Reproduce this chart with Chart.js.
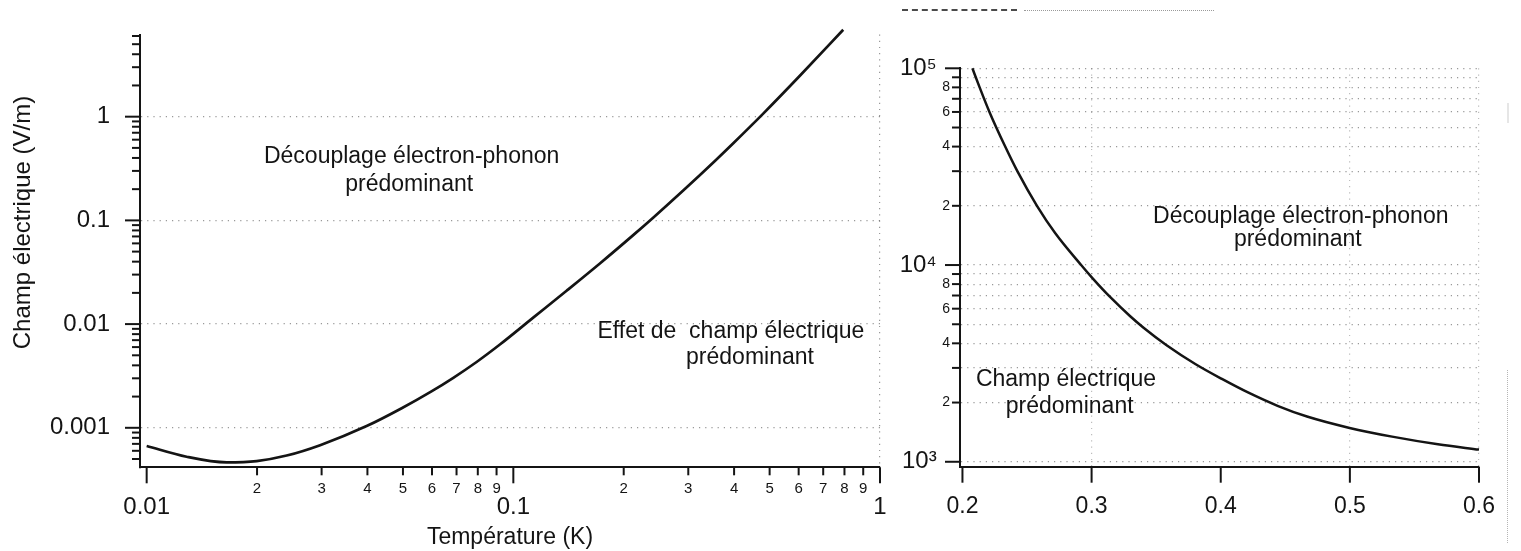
<!DOCTYPE html>
<html lang="fr">
<head>
<meta charset="utf-8">
<title>Champ électrique en fonction de la température</title>
<script src="https://cdn.jsdelivr.net/npm/chart.js@4.4.1/dist/chart.umd.min.js"></script>
<style>
  html, body { margin: 0; padding: 0; background: #fff; }
  body { width: 1521px; height: 551px; position: relative; overflow: hidden; }
  canvas { position: absolute; top: 0; }
  #lowT { left: 0; }
  #highT { left: 880px; }
  .scan { position: absolute; }
</style>
</head>
<body>
<canvas id="lowT" width="900" height="551"></canvas>
<canvas id="highT" width="641" height="551"></canvas>
<!-- photocopy leftovers around the right panel -->
<div class="scan" style="left:902px;top:9px;width:115px;border-top:2px dashed #4a4a4a"></div>
<div class="scan" style="left:1024px;top:10px;width:190px;border-top:1px dotted #9a9a9a"></div>
<div class="scan" style="left:1507px;top:103px;height:20px;border-left:2px solid #e6e6e6"></div>
<div class="scan" style="left:1507px;top:370px;height:173px;border-left:1px dotted #b5b5b5"></div>

<script>
// ---- left panel: field vs temperature, 10 mK .. 1 K ----
const tempLow = [0.01, 0.01285, 0.01652, 0.01995, 0.02409, 0.02972, 0.0398, 0.0496, 0.0598, 0.0686,
                 0.0794, 0.0919, 0.1133, 0.1397, 0.1722, 0.2123, 0.2406, 0.2906, 0.3546, 0.398,
                 0.4803, 0.6046, 0.7938];
const fieldLow = [6.68e-4, 5.26e-4, 4.643e-4, 4.776e-4, 5.40e-4, 6.80e-4, 1.039e-3, 1.544e-3, 2.244e-3, 3.036e-3,
                  4.31e-3, 6.35e-3, 0.01154, 0.02096, 0.03843, 0.0721, 0.1062, 0.1942, 0.3745, 0.5548,
                  1.071, 2.481, 6.89];

// ---- right panel: field vs temperature, 0.2 .. 0.6 K ----
const tempHigh = [0.2077, 0.2133, 0.2209, 0.2331, 0.2425, 0.2577, 0.2719, 0.2919, 0.3008, 0.3147,
                  0.3299, 0.340, 0.3578, 0.3806, 0.4009, 0.4211, 0.444, 0.4668, 0.4998, 0.5327, 0.5682, 0.6];
const fieldHigh = [1e5, 8e4, 6e4, 4e4, 3e4, 2e4, 1.45e4, 1e4, 8.56e3, 6.84e3,
                   5.49e3, 4.815e3, 3.924e3, 3.131e3, 2.636e3, 2.25e3, 1.925e3, 1.698e3, 1.486e3, 1.342e3, 1.227e3, 1.153e3];

// tick values and labels
const minorSteps = [2, 3, 4, 5, 6, 7, 8, 9];
const lowTempDecades = [0.01, 0.1, 1];
const lowTempLabels = ['0.01', '0.1', '1'];
const lowFieldDecades = [0.001, 0.01, 0.1, 1];
const lowFieldLabels = ['0.001', '0.01', '0.1', '1'];
const highTempTicks = [0.2, 0.3, 0.4, 0.5, 0.6];
const highTempLabels = ['0.2', '0.3', '0.4', '0.5', '0.6'];
const highTempGrid = [0.3, 0.5, 0.6];
const highFieldDecades = [1e3, 1e4, 1e5];
const highFieldLabels = ['10³  ', '10⁴  ', '10⁵  '];
const highFieldMinorLabelled = [2, 4, 6, 8];

const FAMILY = "'Liberation Sans', Arial, Helvetica, sans-serif";
const INK = '#141414';
const DOTS = 'rgba(70,70,70,0.55)';

Chart.defaults.font.family = FAMILY;
Chart.defaults.color = INK;

const near = (a, b) => Math.abs(a - b) <= Math.abs(b) * 1e-6;
const decadeOf = v => Math.pow(10, Math.floor(Math.log10(v) + 1e-9));

// decades plus 2..9 minors, kept inside [lo, hi]
function logTicks(decades, lo, hi) {
  const out = [];
  [decades[0] / 10, ...decades].forEach(d => {
    if (d >= lo && d <= hi) out.push({ value: d, major: true });
    minorSteps.forEach(m => {
      const v = d * m;
      if (v >= lo && v <= hi) out.push({ value: v, major: false });
    });
  });
  return out.sort((a, b) => a.value - b.value);
}

function labelFor(value, decades, labels) {
  const i = decades.findIndex(d => near(value, d));
  return i < 0 ? '' : labels[i];
}

// short/long tick marks, region labels and the rotated y title
const marksAndNotes = {
  id: 'marksAndNotes',
  afterDraw(chart, args, opts) {
    const ctx = chart.ctx;
    ctx.save();
    ctx.strokeStyle = INK;
    ctx.lineWidth = 2;
    const lengths = opts.lengths || {};
    Object.keys(lengths).forEach(id => {
      const scale = chart.scales[id];
      const [big, small] = lengths[id];
      scale.ticks.forEach(t => {
        const l = t.major ? big : small;
        if (!l) return;
        const p = scale.getPixelForValue(t.value);
        ctx.beginPath();
        if (scale.isHorizontal()) {
          ctx.moveTo(p, scale.top);
          ctx.lineTo(p, scale.top + l);
        } else {
          ctx.moveTo(scale.right, p);
          ctx.lineTo(scale.right - l, p);
        }
        ctx.stroke();
      });
    });

    ctx.fillStyle = INK;
    ctx.textAlign = 'center';
    ctx.textBaseline = 'middle';
    (opts.notes || []).forEach(n => {
      ctx.font = n.size + 'px ' + FAMILY;
      ctx.fillText(n.text, chart.scales.x.getPixelForValue(n.at[0]), chart.scales.y.getPixelForValue(n.at[1]));
    });

    if (opts.yTitle) {
      const t = opts.yTitle;
      ctx.translate(t.cx, t.cy);
      ctx.rotate(-Math.PI / 2);
      ctx.font = t.size + 'px ' + FAMILY;
      ctx.fillText(t.text, 0, 0);
    }
    ctx.restore();
  }
};

const curve = (xs, ys, width) => ({
  data: xs.map((x, i) => ({ x, y: ys[i] })),
  showLine: true,
  borderColor: INK,
  borderWidth: width,
  pointRadius: 0,
  cubicInterpolationMode: 'monotone',
  clip: false
});

const common = {
  responsive: false,
  animation: false,
  events: [],
  plugins: { legend: { display: false }, tooltip: { enabled: false } }
};

// left panel
new Chart(document.getElementById('lowT'), {
  type: 'scatter',
  data: { datasets: [curve(tempLow, fieldLow, 2.7)] },
  plugins: [marksAndNotes],
  options: {
    ...common,
    layout: { padding: { top: 34.5, right: 20, bottom: 0, left: 0 } },
    scales: {
      x: {
        type: 'logarithmic',
        min: 0.00959, max: 1,
        bounds: 'data',
        afterBuildTicks: s => { s.ticks = logTicks(lowTempDecades, s.min, s.max); },
        afterFit: s => { s.height = 83.7; },
        border: { display: true, color: INK, width: 2, dash: [1.2, 5] },
        grid: {
          drawTicks: false,
          lineWidth: 1.2,
          color: c => (c.tick && near(c.tick.value, 1)) ? DOTS : 'transparent'
        },
        ticks: {
          autoSkip: false, maxRotation: 0, minRotation: 0, padding: 4, color: INK,
          font: c => (c.tick && c.tick.major) ? { size: 24, lineHeight: '73px' } : { size: 15, lineHeight: '35px' },
          callback: (v, i, ticks) => ticks[i].major
            ? labelFor(v, lowTempDecades, lowTempLabels)
            : String(Math.round(v / decadeOf(v)))
        },
        title: { display: true, text: 'Température (K)', color: INK, font: { size: 23 }, padding: 0 }
      },
      y: {
        type: 'logarithmic',
        min: 4.16e-4, max: 6.2,
        bounds: 'data',
        afterBuildTicks: s => { s.ticks = logTicks(lowFieldDecades, s.min, s.max); },
        afterFit: s => { s.width = 140; },
        border: { display: true, color: INK, width: 2, dash: [1.2, 5] },
        grid: {
          drawTicks: false,
          lineWidth: 1.2,
          color: c => (c.tick && c.tick.major) ? DOTS : 'transparent'
        },
        ticks: {
          autoSkip: false, padding: 30, color: INK,
          font: { size: 24, lineHeight: '1px' },
          callback: (v, i, ticks) => ticks[i].major ? labelFor(v, lowFieldDecades, lowFieldLabels) : ''
        }
      }
    },
    plugins: {
      ...common.plugins,
      marksAndNotes: {
        lengths: { x: [16, 8], y: [15, 8] },
        notes: [
          { text: 'Découplage électron-phonon', at: [0.0528, 0.41], size: 23 },
          { text: 'prédominant', at: [0.052, 0.22], size: 23 },
          { text: 'Effet de  champ électrique', at: [0.392, 0.0084], size: 23 },
          { text: 'prédominant', at: [0.442, 0.0047], size: 23 }
        ],
        yTitle: { text: 'Champ électrique (V/m)', cx: 23.5, cy: 222.5, size: 24 }
      }
    }
  }
});

// right panel
new Chart(document.getElementById('highT'), {
  type: 'scatter',
  data: { datasets: [curve(tempHigh, fieldHigh, 2.5)] },
  plugins: [marksAndNotes],
  options: {
    ...common,
    layout: { padding: { top: 68.3, right: 32.3, bottom: 0, left: 0 } },
    scales: {
      x: {
        type: 'linear',
        min: 0.1981, max: 0.6,
        afterBuildTicks: s => { s.ticks = highTempTicks.map(v => ({ value: v, major: true })); },
        afterFit: s => { s.height = 84.3; },
        border: { display: true, color: INK, width: 2, dash: [1.2, 5] },
        grid: {
          drawTicks: false,
          lineWidth: 1.2,
          color: c => (c.tick && highTempGrid.some(g => near(c.tick.value, g))) ? 'rgba(90,90,90,0.4)' : 'transparent'
        },
        ticks: {
          autoSkip: false, maxRotation: 0, minRotation: 0, padding: 26, color: INK,
          font: { size: 23 },
          callback: (v, i) => highTempLabels[i]
        }
      },
      y: {
        type: 'logarithmic',
        min: 944, max: 1e5,
        bounds: 'data',
        afterBuildTicks: s => { s.ticks = logTicks(highFieldDecades, s.min, s.max); },
        afterFit: s => { s.width = 80; },
        border: { display: true, color: INK, width: 2, dash: [1.2, 5] },
        grid: { drawTicks: false, lineWidth: 1.2, color: DOTS },
        ticks: {
          autoSkip: false, padding: 10, color: INK,
          font: c => (c.tick && c.tick.major) ? { size: 24, lineHeight: '1px' } : { size: 14, lineHeight: '1px' },
          callback: (v, i, ticks) => {
            if (ticks[i].major) return labelFor(v, highFieldDecades, highFieldLabels);
            const m = Math.round(v / decadeOf(v));
            return highFieldMinorLabelled.includes(m) ? String(m) : '';
          }
        }
      }
    },
    plugins: {
      ...common.plugins,
      marksAndNotes: {
        lengths: { x: [16, 0], y: [15, 8] },
        notes: [
          { text: 'Découplage électron-phonon', at: [0.462, 1.76e4], size: 23 },
          { text: 'prédominant', at: [0.4597, 1.34e4], size: 23 },
          { text: 'Champ électrique', at: [0.2802, 2.6e3], size: 23 },
          { text: 'prédominant', at: [0.283, 1.905e3], size: 23 }
        ]
      }
    }
  }
});
</script>
</body>
</html>
